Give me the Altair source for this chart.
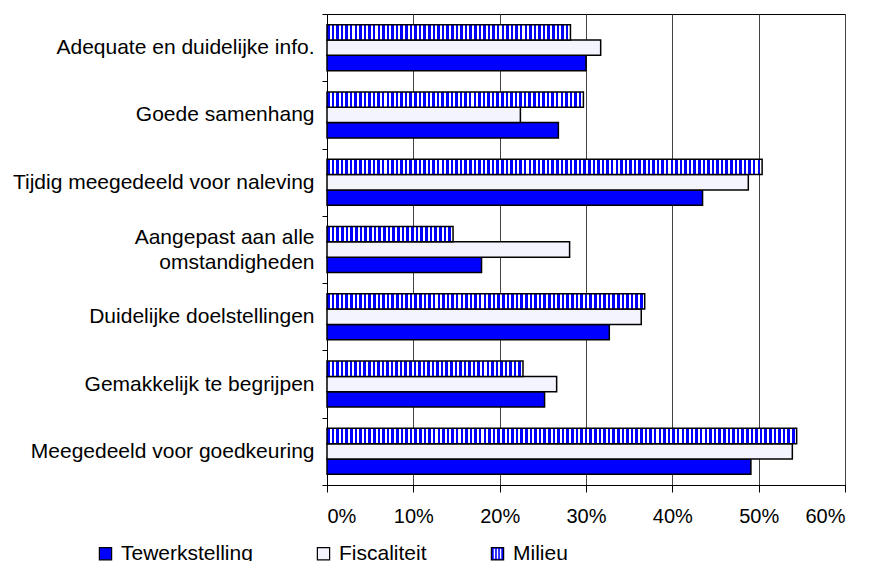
import altair as alt
import pandas as pd

categories = [
    "Adequate en duidelijke info.",
    "Goede samenhang",
    "Tijdig meegedeeld voor naleving",
    "Aangepast aan alle omstandigheden",
    "Duidelijke doelstellingen",
    "Gemakkelijk te begrijpen",
    "Meegedeeld voor goedkeuring",
]
series = ["Tewerkstelling", "Fiscaliteit", "Milieu"]
tewerkstelling = [30.0, 26.8, 43.5, 17.9, 32.7, 25.2, 49.1]
fiscaliteit = [31.7, 22.4, 48.8, 28.1, 36.4, 26.6, 53.9]
milieu = [28.2, 29.7, 50.4, 14.6, 36.8, 22.7, 54.4]
x_ticks = [0, 10, 20, 30, 40, 50, 60]

BLUE = "#0000ff"
LIGHT = "#f4f4ff"
WHITE = "#ffffff"
FONT = "Liberation Sans"
PLOT_W = 518
PLOT_H = 471
X_MAX = 60

rows = []
for i, c in enumerate(categories):
    rows.append({"category": c, "series": "Tewerkstelling", "value": tewerkstelling[i]})
    rows.append({"category": c, "series": "Fiscaliteit", "value": fiscaliteit[i]})
    rows.append({"category": c, "series": "Milieu", "value": milieu[i]})
df = pd.DataFrame(rows)


def stripe_gradient(value, period=4.6, frac=0.55):
    w = value / X_MAX * PLOT_W
    n = max(1, round(w / period))
    stops = []
    for i in range(n):
        a = i / n
        b = (i + frac) / n
        c = (i + 1) / n
        stops += [
            alt.GradientStop(offset=a, color=BLUE),
            alt.GradientStop(offset=b, color=BLUE),
            alt.GradientStop(offset=b, color=WHITE),
            alt.GradientStop(offset=c, color=WHITE),
        ]
    return alt.LinearGradient(gradient="linear", stops=stops, x1=0, x2=1, y1=0, y2=0)


x_enc = alt.X(
    "value:Q",
    scale=alt.Scale(domain=[0, X_MAX], nice=False, zero=True),
    axis=alt.Axis(
        values=x_ticks,
        labelExpr="datum.value + '%'",
        title=None,
        grid=True,
        gridColor="#444444",
        gridWidth=1,
        tickSize=7,
        tickColor="black",
        domainColor="black",
        labelFontSize=20,
        labelPadding=14,
    ),
)
y_enc = alt.Y(
    "category:N",
    sort=categories,
    scale=alt.Scale(domain=categories, paddingInner=0, paddingOuter=0),
    axis=alt.Axis(
        title=None,
        tickBand="extent",
        tickSize=5,
        tickColor="black",
        domainColor="black",
        labelFontSize=21,
        labelPadding=8,
        labelLimit=400,
        labelLineHeight=25,
        labelOffset={
            "condition": {
                "test": "datum.label == 'Aangepast aan alle omstandigheden'",
                "value": -12.5,
            },
            "value": 0,
        },
        labelExpr="datum.label == 'Aangepast aan alle omstandigheden' ? ['Aangepast aan alle', 'omstandigheden'] : datum.label",
    ),
)
order = ["Milieu", "Fiscaliteit", "Tewerkstelling"]
yoff = alt.YOffset(
    "series:N",
    sort=order,
    scale=alt.Scale(domain=order, paddingInner=0, paddingOuter=0.695),
)

base = alt.Chart(df).encode(x=x_enc, y=y_enc, yOffset=yoff)

tew = base.transform_filter(alt.datum.series == "Tewerkstelling").mark_bar(
    fill=BLUE, stroke="black", strokeWidth=1.5
)
fis = base.transform_filter(alt.datum.series == "Fiscaliteit").mark_bar(
    fill=LIGHT, stroke="black", strokeWidth=1.5
)
mil_layers = []
for c, v in zip(categories, milieu):
    mil_layers.append(
        base.transform_filter(
            (alt.datum.series == "Milieu") & (alt.datum.category == c)
        ).mark_bar(fill=stripe_gradient(v), stroke="black", strokeWidth=1.5)
    )

# legend helpers: marks placed outside the drawing, only their legends show
leg_df = pd.DataFrame({"series": series, "series2": series})
TINY = "M0,0h0.001v0.001h-0.001Z"
STRIPES = (
    "M-0.62,-0.82H-0.38V0.82H-0.62Z"
    "M-0.12,-0.82H0.12V0.82H-0.12Z"
    "M0.38,-0.82H0.62V0.82H0.38Z"
)
common_leg = dict(
    orient="none",
    legendX=-232,
    legendY=529,
    direction="horizontal",
    columns=3,
    columnPadding=60,
    labelFontSize=21,
    labelFont=FONT,
    labelOffset=5,
    symbolSize=150,
    symbolOpacity=1,
    title=None,
    padding=0,
)
legend_a = alt.Chart(leg_df).mark_point(filled=True, shape="square").encode(
    x=alt.value(-3000),
    y=alt.value(-3000),
    color=alt.Color(
        "series:N",
        sort=series,
        scale=alt.Scale(domain=series, range=[BLUE, LIGHT, BLUE]),
        legend=alt.Legend(
            symbolType="square",
            symbolStrokeColor="black",
            symbolStrokeWidth=1.2,
            labelColor="black",
            **common_leg,
        ),
    ),
)
legend_b = alt.Chart(leg_df).mark_point(filled=True, color=WHITE).encode(
    x=alt.value(-3000),
    y=alt.value(-3000),
    shape=alt.Shape(
        "series2:N",
        sort=series,
        scale=alt.Scale(domain=series, range=[TINY, TINY, STRIPES]),
        legend=alt.Legend(
            symbolFillColor=WHITE,
            symbolStrokeWidth=0,
            labelColor="transparent",
            **common_leg,
        ),
    ),
)

chart = (
    alt.layer(tew, fis, *mil_layers, legend_a, legend_b)
    .properties(
        width=PLOT_W,
        height=PLOT_H,
        padding={"left": 319, "top": 6, "right": 17, "bottom": 80},
        autosize=alt.AutoSizeParams(type="none"),
    )
    .resolve_scale(color="independent", shape="independent")
    .configure_view(stroke="black", strokeWidth=1)
    .configure_axis(labelFont=FONT, labelColor="black")
    .configure_legend(labelFont=FONT)
)

chart.save("out.html", embed_options={"renderer": "svg", "actions": False})
